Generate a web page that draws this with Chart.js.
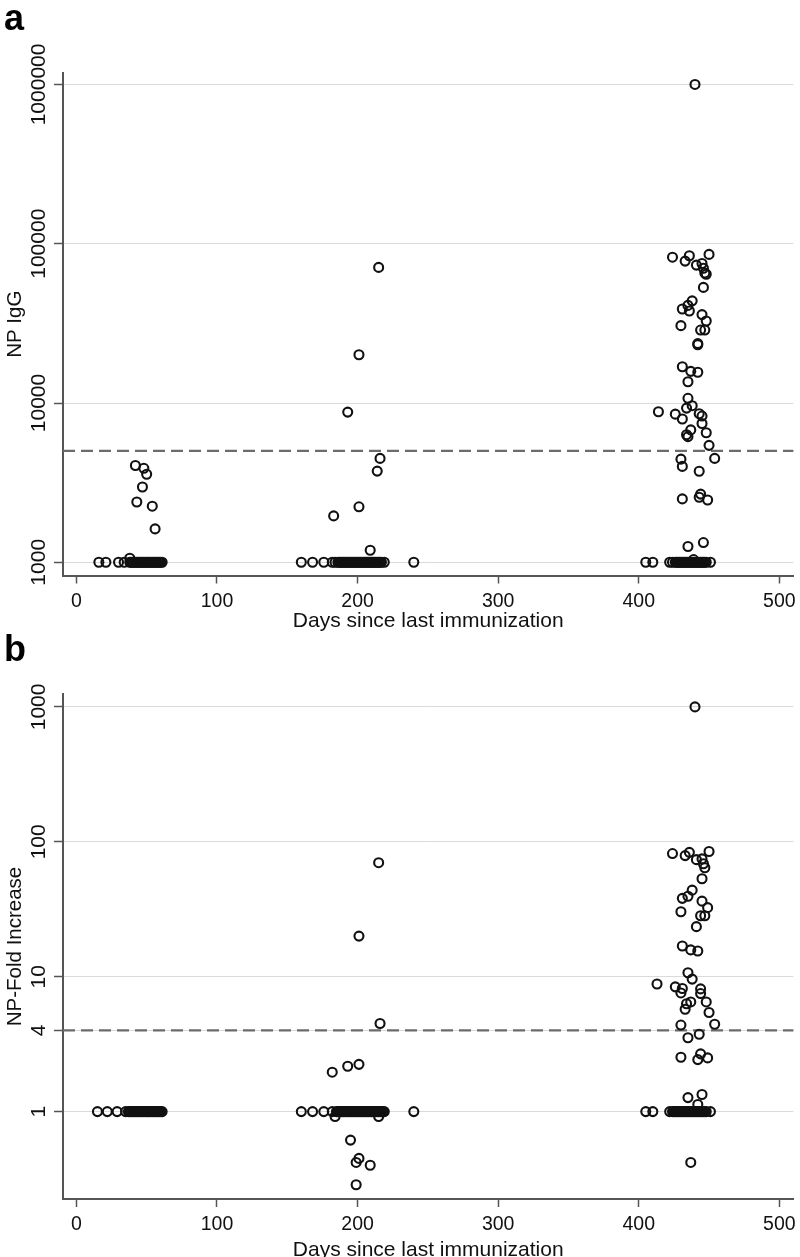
<!DOCTYPE html>
<html><head><meta charset="utf-8">
<script src="https://cdn.jsdelivr.net/npm/chart.js@4.4.1/dist/chart.umd.min.js"></script>
<style>
html,body{margin:0;padding:0;background:#fff;overflow:hidden;width:800px;height:1257px;position:relative}
.wrap{position:absolute;left:0;width:800px;height:640px}
.lab{position:absolute;left:4px;font:bold 36px "Liberation Sans",Arial,sans-serif;line-height:36px;color:#000}
</style></head><body>
<div class="wrap" style="top:0"><canvas id="ca" width="800" height="640"></canvas></div>
<div class="wrap" style="top:640px"><canvas id="cb" width="800" height="640"></canvas></div>
<div class="lab" style="top:0">a</div>
<div class="lab" style="top:631px">b</div>
<script>
const xTicks = [0, 100, 200, 300, 400, 500];
const xMin = -9.5, xMax = 510;
const xTitle = 'Days since last immunization';

const iggTicks = [1000, 10000, 100000, 1000000];
const iggTickLabels = ['1000', '10000', '100000', '1000000'];
const iggMin = 826, iggMax = 1180000;
const iggCutoff = 5000;
const iggTitle = 'NP IgG';

const foldTicks = [1, 4, 10, 100, 1000];
const foldTickLabels = ['1', '4', '10', '100', '1000'];
const foldMin = 0.225, foldMax = 1246;
const foldCutoff = 4;
const foldTitle = 'NP-Fold Increase';

const iggDays = [
 16,21,30,34,38,38,39,40,41,42,43,44,45,46,47,48,49,50,51,52,53,54,55,56,57,58,59,60,61,
 42,48,50,47,43,54,56,
 160,168,176,182,184,186,187,188,189,190,191,192,193,194,195,196,197,198,199,200,201,202,203,204,205,206,207,208,209,210,211,212,213,214,215,216,217,219,240,
 209,183,201,214,216,193,201,215,
 405,410,422,424,426,427,428,429,430,431,432,433,434,435,436,437,438,439,440,441,442,443,444,445,446,447,448,451,439,
 440,424,436,433,450,441,445,446,448,447,446,
 438,431,436,435,445,448,430,444,447,442,442,
 431,437,442,435,
 435,438,434,414,426,431,443,445,445,437,434,435,448,450,
 454,430,431,443,431,444,443,449,435,446
];
const iggValues = [
 1000,1000,1000,1000,1060,1000,1000,1000,1000,1000,1000,1000,1000,1000,1000,1000,1000,1000,1000,1000,1000,1000,1000,1000,1000,1000,1000,1000,1000,
 4050,3890,3570,2970,2390,2250,1620,
 1000,1000,1000,1000,1000,1000,1000,1000,1000,1000,1000,1000,1000,1000,1000,1000,1000,1000,1000,1000,1000,1000,1000,1000,1000,1000,1000,1000,1000,1000,1000,1000,1000,1000,1000,1000,1000,1000,1000,
 1190,1955,2230,3735,4490,8770,20100,71000,
 1000,1000,1000,1000,1000,1000,1000,1000,1000,1000,1000,1000,1000,1000,1000,1000,1000,1000,1000,1000,1000,1000,1000,1000,1000,1000,1000,1000,1040,
 1000000,82300,84100,77800,85700,73400,75100,70100,64300,65500,53200,
 43800,38900,37800,41000,35900,32700,30600,28700,28700,23600,23200,
 16900,15800,15600,13600,
 10700,9620,9290,8810,8510,7940,8570,8280,7430,6780,6320,6150,6500,5420,
 4490,4440,4000,3730,2500,2680,2560,2460,1257,1330
];

const foldDays = [
 15,22,29,35,37,38,39,40,41,42,43,44,45,46,47,48,49,50,51,52,53,54,55,56,57,58,59,60,61,
 160,168,176,182,185,186,187,188,189,190,191,192,193,194,195,196,197,198,199,200,201,202,203,204,205,206,207,208,209,210,211,212,213,214,215,216,217,218,219,240,184,215,
 182,193,201,216,201,215,195,201,199,209,199,
 405,410,422,424,425,426,427,428,429,430,431,432,433,434,435,436,437,438,439,440,441,442,443,444,445,446,447,448,451,
 440,424,436,433,450,441,445,446,447,445,
 438,431,435,445,449,430,444,447,441,
 431,437,442,
 435,438,413,426,431,430,444,444,437,434,433,448,450,
 454,430,443,435,430,444,442,449,435,445,442,437
];
const foldValues = [
 1,1,1,1,1,1,1,1,1,1,1,1,1,1,1,1,1,1,1,1,1,1,1,1,1,1,1,1,1,
 1,1,1,1,1,1,1,1,1,1,1,1,1,1,1,1,1,1,1,1,1,1,1,1,1,1,1,1,1,1,1,1,1,1,1,1,1,1,1,1,0.92,0.92,
 1.96,2.17,2.24,4.5,20,70,0.615,0.45,0.42,0.40,0.287,
 1,1,1,1,1,1,1,1,1,1,1,1,1,1,1,1,1,1,1,1,1,1,1,1,1,1,1,1,1,
 1000,81.8,83.5,79,84.7,73.7,74.7,68.8,64.2,53.2,
 43.8,38.1,39.5,36.3,32.5,30.3,28.3,28.3,23.5,
 16.9,15.8,15.5,
 10.7,9.6,8.83,8.41,8.18,7.58,8.12,7.5,6.5,6.3,5.74,6.5,5.43,
 4.44,4.38,3.74,3.53,2.53,2.68,2.43,2.5,1.27,1.34,1.13,0.42
];

const FONT = '"Liberation Sans", Arial, Helvetica, sans-serif';
Chart.defaults.font.family = FONT;
Chart.defaults.color = '#111';

const decor = {
  id: 'decor',
  beforeDatasetsDraw(chart, args, opts) {
    const {ctx, chartArea: a} = chart;
    const y = chart.scales.y;
    const py = y.getPixelForValue(opts.cutoff);
    ctx.save();
    ctx.strokeStyle = '#6b6b6b';
    ctx.lineWidth = 2.2;
    ctx.setLineDash([12, 6]);
    ctx.beginPath();
    ctx.moveTo(a.left, py);
    ctx.lineTo(a.right, py);
    ctx.stroke();
    ctx.restore();
  },
  afterDraw(chart, args, opts) {
    const ctx = chart.ctx;
    const y = chart.scales.y;
    ctx.save();
    ctx.font = '21px ' + FONT;
    ctx.fillStyle = '#111';
    ctx.textAlign = 'center';
    ctx.textBaseline = 'middle';
    opts.ticks.forEach((v, i) => {
      const py = y.getPixelForValue(v);
      ctx.save();
      ctx.translate(39, py);
      ctx.rotate(-Math.PI / 2);
      ctx.fillText(opts.labels[i], 0, 0);
      ctx.restore();
    });
    ctx.restore();
  }
};

function build(id, days, vals, yT, yL, yMin, yMax, cutoff, yTitle, top, bottom, titlePad) {
  const H = 640;
  return new Chart(document.getElementById(id), {
    type: 'scatter',
    data: {datasets: [{
      data: days.map((d, i) => ({x: d, y: vals[i]})),
      pointStyle: 'circle',
      pointRadius: 4.5,
      pointBorderWidth: 2.1,
      pointBorderColor: '#111',
      pointBackgroundColor: 'rgba(0,0,0,0)',
      borderColor: '#111',
      backgroundColor: 'rgba(0,0,0,0)',
      showLine: false
    }]},
    options: {
      responsive: false, animation: false, devicePixelRatio: 1,
      layout: {padding: {top: top, right: 4, bottom: 0, left: 0}},
      plugins: {legend: {display: false}, tooltip: {enabled: false},
        decor: {cutoff: cutoff, ticks: yT, labels: yL}},
      scales: {
        x: {
          type: 'linear', min: xMin, max: xMax,
          afterBuildTicks(s) { s.ticks = xTicks.map(v => ({value: v})); },
          afterFit(s) { s.height = H - bottom; s.paddingLeft = 0; s.paddingRight = 0; },
          grid: {drawOnChartArea: false, drawTicks: true, tickLength: 8, tickColor: '#555', tickWidth: 1.5},
          border: {display: true, color: '#555', width: 2},
          ticks: {font: {size: 19.5}, color: '#111', padding: 6, maxRotation: 0, minRotation: 0, autoSkip: false},
          title: {display: true, text: xTitle, font: {size: 21}, color: '#111', padding: {top: 0, bottom: titlePad}}
        },
        y: {
          type: 'logarithmic', min: yMin, max: yMax,
          afterBuildTicks(s) { s.ticks = yT.map(v => ({value: v})); },
          afterFit(s) { s.width = 63; },
          grid: {color: '#dadada', lineWidth: 1, drawTicks: true, tickLength: 9, tickColor: '#555', tickWidth: 1.5},
          border: {display: true, color: '#555', width: 2},
          ticks: {display: false},
          title: {display: true, text: yTitle, font: {size: 20.5}, color: '#111', padding: {top: 3, bottom: 0}}
        }
      }
    },
    plugins: [decor]
  });
}

build('ca', iggDays, iggValues, iggTicks, iggTickLabels, iggMin, iggMax, iggCutoff, iggTitle, 73, 575.5, 6);
build('cb', foldDays, foldValues, foldTicks, foldTickLabels, foldMin, foldMax, foldCutoff, foldTitle, 54, 559, 17);
</script>
</body></html>
